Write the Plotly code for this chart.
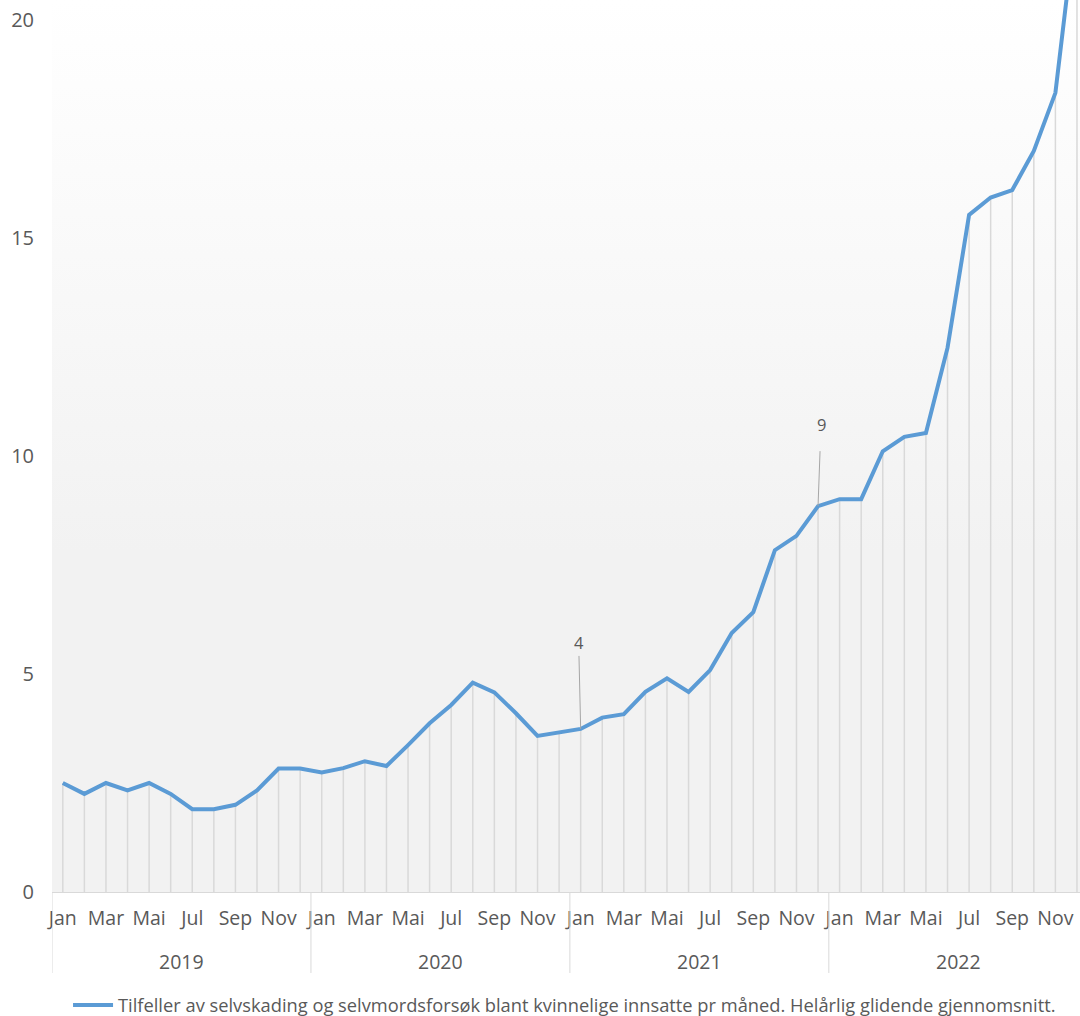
import plotly.graph_objects as go

# ---- data ----
years = ["2019", "2020", "2021", "2022"]
month_labels = ["Jan", "Feb", "Mar", "Apr", "Mai", "Jun", "Jul", "Aug", "Sep", "Okt", "Nov", "Des"]
values = [
    2.5, 2.25, 2.5, 2.33, 2.5, 2.25, 1.9, 1.9, 2.0, 2.33, 2.83, 2.83,       # 2019
    2.74, 2.84, 3.0, 2.89, 3.37, 3.87, 4.29, 4.8, 4.58, 4.1, 3.58, 3.65,    # 2020
    3.74, 4.0, 4.08, 4.59, 4.9, 4.59, 5.09, 5.94, 6.42, 7.84, 8.17, 8.85,   # 2021
    9.01, 9.01, 10.11, 10.44, 10.53, 12.48, 15.53, 15.93, 16.1, 17.0, 18.33, 22.5,  # 2022
]
labelled_points = [24, 35]   # Jan 2021, Dec 2021
series_name = ("Tilfeller av selvskading og selvmordsforsøk blant kvinnelige innsatte pr måned. "
               "Helårlig glidende gjennomsnitt.")

y_ticks = [0, 5, 10, 15, 20]

# ---- derived ----
n = len(values)
x_idx = list(range(n))
tick_vals = [i for i in x_idx if i % 2 == 0]
tick_text = [month_labels[i % 12] for i in tick_vals]

X_RANGE = [-0.5, 47.14]
Y_RANGE = [0, 20.46]

FONT = "Open Sans"
TXT = "#595959"
GRID = "#d9d9d9"

fig = go.Figure()

# gradient background of plot area
fig.add_trace(go.Scatter(
    x=[X_RANGE[0], X_RANGE[1], X_RANGE[1], X_RANGE[0], X_RANGE[0]],
    y=[Y_RANGE[0], Y_RANGE[0], Y_RANGE[1], Y_RANGE[1], Y_RANGE[0]],
    mode="lines", line=dict(width=0), fill="toself",
    fillgradient=dict(type="vertical",
                      colorscale=[[0, "#f2f2f2"], [0.38, "#f2f2f2"], [1, "#ffffff"]]),
    hoverinfo="skip", showlegend=False,
))

# drop lines
dx, dy = [], []
for i, v in zip(x_idx, values):
    dx += [i, i, None]
    dy += [0, v, None]
fig.add_trace(go.Scatter(x=dx, y=dy, mode="lines",
                         line=dict(color=GRID, width=1.5),
                         hoverinfo="skip", showlegend=False))

# main line
fig.add_trace(go.Scatter(x=x_idx, y=values, mode="lines", name=series_name,
                         line=dict(color="#5B9BD5", width=4)))

# data labels with leader lines
offsets = {24: (-2, -86, 0), 35: (3, -82, 14)}
for i in labelled_points:
    ax, ay, sso = offsets[i]
    fig.add_annotation(x=i, y=values[i], text=str(round(values[i])),
                       showarrow=True, arrowhead=0, arrowwidth=1, arrowcolor="#a6a6a6",
                       ax=ax, ay=ay, standoff=0, startstandoff=sso,
                       font=dict(family=FONT, size=16.5, color=TXT))

# year labels and separators
for k, yr in enumerate(years):
    fig.add_annotation(x=k * 12 + 5.5, y=-0.0774, xref="x", yref="paper", text=yr,
                       yanchor="middle", showarrow=False,
                       font=dict(family=FONT, size=19.5, color=TXT))
    fig.add_shape(type="line", x0=k * 12 - 0.5, x1=k * 12 - 0.5, y0=0, y1=-0.0908,
                  xref="x", yref="paper", line=dict(color=GRID, width=1))

fig.update_layout(
    width=1080, height=1016,
    margin=dict(l=52, r=0, t=0, b=124),
    paper_bgcolor="white", plot_bgcolor="white",
    font=dict(family=FONT, color=TXT),
    xaxis=dict(range=X_RANGE, tickvals=tick_vals, ticktext=tick_text,
               showgrid=False, zeroline=False, showline=True, linecolor=GRID, linewidth=1,
               ticks="outside", ticklen=9, tickcolor="rgba(0,0,0,0)",
               tickfont=dict(family=FONT, size=19.5, color=TXT)),
    yaxis=dict(range=Y_RANGE, tickvals=y_ticks, showgrid=False, zeroline=False,
               showline=False, ticks="outside", ticklen=13, tickcolor="rgba(0,0,0,0)",
               tickfont=dict(family=FONT, size=20, color=TXT)),
    showlegend=True,
    legend=dict(orientation="h", xref="container", yref="container",
                x=0.063, y=0.0108, xanchor="left", yanchor="middle", itemwidth=40,
                font=dict(family=FONT, size=18.3, color=TXT), bgcolor="rgba(0,0,0,0)"),
)

fig.write_html("out.html", config={"displayModeBar": False},
               post_script="document.body.style.margin='0';")
